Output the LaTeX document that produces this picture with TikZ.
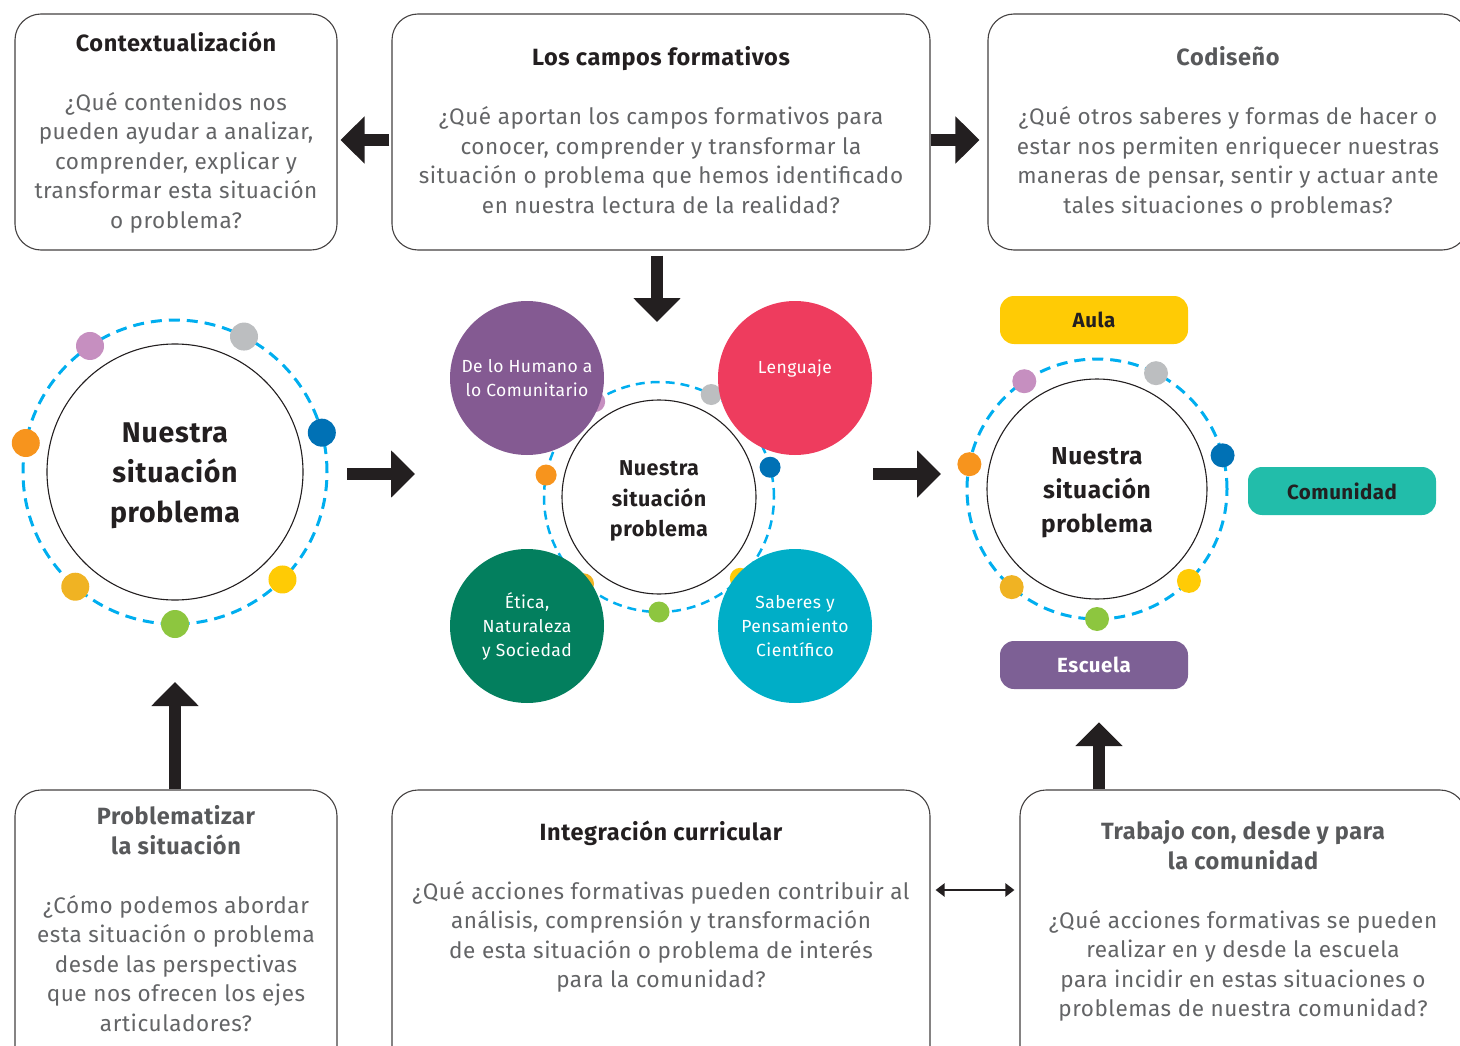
\documentclass[tikz,border=0pt]{standalone}
\usepackage{fontspec}
\setmainfont{Fira Sans}[LetterSpace=2.5]
\usetikzlibrary{positioning,arrows.meta}

\definecolor{inkdark}{HTML}{231F20}
\definecolor{inkgray}{HTML}{58595B}
\definecolor{bodygray}{HTML}{636466}
\definecolor{ringblue}{HTML}{00AEEF}
\definecolor{dotpink}{HTML}{C68FC0}
\definecolor{dotgray}{HTML}{BCBEC0}
\definecolor{dotblue}{HTML}{0071B5}
\definecolor{dotorange}{HTML}{F7941D}
\definecolor{dotyellow}{HTML}{FFCB05}
\definecolor{dotamber}{HTML}{F0B323}
\definecolor{dotgreen}{HTML}{8DC63F}
\definecolor{campopurple}{HTML}{845A92}
\definecolor{campored}{HTML}{EE3C5E}
\definecolor{campogreen}{HTML}{037F5E}
\definecolor{campocyan}{HTML}{00AEC7}
\definecolor{aulayellow}{HTML}{FFCB05}
\definecolor{comteal}{HTML}{22BDAA}
\definecolor{escpurple}{HTML}{7D6095}

\newcommand{\boxtitle}[2]{{\bfseries\fontsize{23.5}{29.5}\selectfont\color{#1}#2}}

\begin{document}
\begin{tikzpicture}[x=1pt, y=-1pt,
  box/.style={draw=inkdark!85, line width=1.1pt, rounded corners=26pt},
  txt/.style={align=center, inner sep=0pt, text=bodygray, font=\fontsize{22.5}{29.5}\selectfont},
  ring/.style={circle, draw=ringblue, line width=3pt, dash pattern=on 11pt off 7pt, inner sep=0pt, outer sep=0pt},
  core/.style={circle, draw=inkdark, fill=white, line width=1.1pt, inner sep=0pt},
  coretxt/.style={align=center, text=inkdark, inner sep=0pt, yshift=-4pt},
  campo/.style={circle, minimum size=154pt, inner sep=0pt},
  campotxt/.style={align=center, text=white, font=\fontsize{17.5}{24}\selectfont},
  pill/.style={rounded corners=14pt, minimum width=188pt, minimum height=48pt, font=\bfseries\fontsize{20.5}{24}\selectfont},
  bigarrow/.style={line width=12pt, color=inkdark, -{Triangle[length=24pt,width=46pt]}},
  dblarrow/.style={line width=2.5pt, color=inkdark, {Triangle[length=9pt,width=13pt]}-{Triangle[length=9pt,width=13pt]}}]

  \clip (0,0) rectangle (1460,1046);

  % Top row
  \node[box, minimum width=322pt, minimum height=236pt] (ctx) at (176,132) {};
  \node[box, minimum width=538pt, minimum height=236pt] (campos) at (661,132) {};
  \node[box, minimum width=480pt, minimum height=236pt] (codis) at (1228,132) {};

  \node[txt, below=18pt of ctx.north] (ctxT) {\boxtitle{inkdark}{Contextualización}\\[29.5pt]
    ¿Qué contenidos nos\\ pueden ayudar a analizar,\\ comprender, explicar y\\ transformar esta situación\\ o problema?};
  \node[txt, below=33pt of campos.north] (camposT) {\boxtitle{inkdark}{Los campos formativos}\\[29.5pt]
    ¿Qué aportan los campos formativos para\\ conocer, comprender y transformar la\\ situación o problema que hemos identificado\\ en nuestra lectura de la realidad?};
  \node[txt, below=33pt of codis.north] (codisT) {\boxtitle{inkgray}{Codiseño}\\[29.5pt]
    ¿Qué otros saberes y formas de hacer o\\ estar nos permiten enriquecer nuestras\\ maneras de pensar, sentir y actuar ante\\ tales situaciones o problemas?};

  % Bottom row
  \node[box, minimum width=322pt, minimum height=300pt] (probl) at (176,940) {};
  \node[box, minimum width=538pt, minimum height=300pt] (integ) at (661,940) {};
  \node[box, minimum width=446pt, minimum height=300pt] (trab) at (1243,940) {};

  \node[txt, below=16pt of probl.north] (problT) {\boxtitle{inkgray}{Problematizar}\\ \boxtitle{inkgray}{la situación}\\[29.5pt]
    ¿Cómo podemos abordar\\ esta situación o problema\\ desde las perspectivas\\ que nos ofrecen los ejes\\ articuladores?};
  \node[txt, below=31pt of integ.north] (integT) {\boxtitle{inkdark}{Integración curricular}\\[29.5pt]
    ¿Qué acciones formativas pueden contribuir al\\ análisis, comprensión y transformación\\ de esta situación o problema de interés\\ para la comunidad?};
  \node[txt, below=31pt of trab.north] (trabT) {\boxtitle{inkgray}{Trabajo con, desde y para}\\ \boxtitle{inkgray}{la comunidad}\\[29.5pt]
    ¿Qué acciones formativas se pueden\\ realizar en y desde la escuela\\ para incidir en estas situaciones o\\ problemas de nuestra comunidad?};

  % Left circle
  \node[ring, minimum size=304pt] (lring) at (175,472) {};
  \foreach \a/\c in {124/dotpink, 63/dotgray, 15/dotblue, 169/dotorange, -45/dotyellow, -131/dotamber, -90/dotgreen}
    \fill[\c] (lring.\a) circle (14pt);
  \node[core, minimum size=256pt] (lcore) at (lring) {};
  \node[coretxt, font=\bfseries\fontsize{28.5}{40}\selectfont] (lcoreT) at (lcore) {Nuestra\\ situación\\ problema};

  % Middle circle
  \node[ring, minimum size=230pt, line width=2.5pt, dash pattern=on 9pt off 6pt] (mring) at (659,497) {};
  \foreach \a/\c in {124/dotpink, 63/dotgray, 15/dotblue, 169/dotorange, -45/dotyellow, -131/dotamber, -90/dotgreen}
    \fill[\c] (mring.\a) circle (10.5pt);
  \node[core, minimum size=194pt] (mcore) at (mring) {};
  \node[coretxt, font=\bfseries\fontsize{21.5}{30.5}\selectfont] (mcoreT) at (mcore) {Nuestra\\ situación\\ problema};

  \node[campo, fill=campopurple] (humano) at (527,378) {};
  \node[campo, fill=campored] (lenguaje) at (795,378) {};
  \node[campo, fill=campogreen] (etica) at (527,626) {};
  \node[campo, fill=campocyan] (saberes) at (795,626) {};
  \node[campotxt] (humanoT) at (humano) {De lo Humano a\\ lo Comunitario};
  \node[campotxt, yshift=9pt] (lenguajeT) at (lenguaje) {Lenguaje};
  \node[campotxt] (eticaT) at (etica) {Ética,\\ Naturaleza\\ y Sociedad};
  \node[campotxt] (saberesT) at (saberes) {Saberes y\\ Pensamiento\\ Científico};

  % Right circle
  \node[ring, minimum size=260pt] (rring) at (1097,489) {};
  \foreach \a/\c in {124/dotpink, 63/dotgray, 15/dotblue, 169/dotorange, -45/dotyellow, -131/dotamber, -90/dotgreen}
    \fill[\c] (rring.\a) circle (12pt);
  \node[core, minimum size=220pt] (rcore) at (rring) {};
  \node[coretxt, font=\bfseries\fontsize{24.5}{34}\selectfont] (rcoreT) at (rcore) {Nuestra\\ situación\\ problema};

  \node[pill, fill=aulayellow, text=inkdark] (aula) at (1094,320) {Aula};
  \node[pill, fill=comteal, text=inkdark] (comunidad) at (1342,491) {Comunidad};
  \node[pill, fill=escpurple, text=white] (escuela) at (1094,665) {Escuela};

  % Arrows
  \draw[bigarrow, shorten <=2pt, shorten >=3pt] ([yshift=-8pt]campos.west) -- ([yshift=-8pt]ctx.east);
  \draw[bigarrow, shorten >=8pt] ([yshift=-8pt]campos.east) -- ([yshift=-8pt]codis.west);
  \draw[bigarrow, shorten <=5pt, shorten >=60pt] ([xshift=-4pt]campos.south) -- ([xshift=-4pt]campos.south |- mring.north);
  \draw[bigarrow, shorten <=20pt, shorten >=129pt] ([yshift=-2pt]lring.east) -- ([yshift=-2pt]lring.east -| mring.west);
  \draw[bigarrow, shorten <=99pt, shorten >=26pt] ([yshift=23pt]mring.east) -- ([yshift=23pt]mring.east -| rring.west);
  \draw[bigarrow, shorten >=58pt] (lring.south |- probl.north) -- (lring.south);
  \draw[bigarrow, shorten >=33pt] ([xshift=5pt]escuela.south |- trab.north) -- ([xshift=5pt]escuela.south);
  \draw[dblarrow, shorten <=5pt, shorten >=5pt] ([yshift=50pt]integ.east) -- ([yshift=50pt]integ.east -| trab.west);

\end{tikzpicture}
\end{document}
